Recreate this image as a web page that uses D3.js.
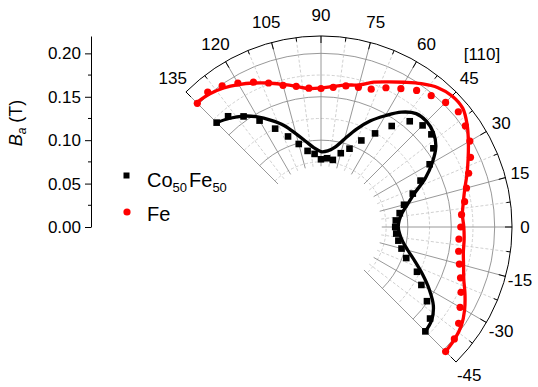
<!DOCTYPE html>
<html>
<head>
<meta charset="utf-8">
<script src="https://cdn.jsdelivr.net/npm/d3@7"></script>
<style>
  body { margin: 0; background: #fff; }
  svg { display: block; font-family: "Liberation Sans", Arial, Helvetica, sans-serif; }
</style>
</head>
<body>
<svg id="chart" width="538" height="387"></svg>
<script>
'use strict';

// measurement angles (deg) and anisotropy field Ba (T)
const angles = [-45, -40, -35, -30, -25, -20, -15, -10, -5, 0, 5, 10, 15, 20, 25, 30, 35, 40, 45,
                50, 55, 60, 65, 70, 75, 80, 85, 90, 95, 100, 105, 110, 115, 120, 125, 130, 135];

const feData = [0.203, 0.2005, 0.1935, 0.185, 0.178, 0.171, 0.165, 0.161, 0.1595, 0.161, 0.1625, 0.168,
                0.1735, 0.181, 0.190, 0.198, 0.203, 0.2065, 0.203, 0.1975, 0.192, 0.184, 0.177, 0.169,
                0.1665, 0.165, 0.1615, 0.1595, 0.1605, 0.1645, 0.169, 0.1765, 0.184, 0.1915, 0.1985,
                0.203, 0.2015];
const feFit = [0.203, 0.201, 0.1975, 0.191, 0.183, 0.175, 0.170, 0.1665, 0.1655, 0.1645, 0.1635, 0.1665,
               0.1715, 0.179, 0.187, 0.196, 0.2055, 0.213, 0.2135, 0.2095, 0.2015, 0.1925, 0.1845,
               0.1775, 0.1695, 0.166, 0.1625, 0.160, 0.160, 0.1645, 0.170, 0.1765, 0.183, 0.1895,
               0.1955, 0.200, 0.2025];

const coData = [0.170, 0.164, 0.149, 0.1335, 0.122, 0.1045, 0.096, 0.0905, 0.087, 0.0855, 0.0865, 0.092,
                0.099, 0.1125, 0.1265, 0.1445, 0.158, 0.166, 0.1655, 0.159, 0.142, 0.1245, 0.110,
                0.096, 0.088, 0.0785, 0.0795, 0.078, 0.0845, 0.089, 0.099, 0.111, 0.125, 0.1415,
                0.1555, 0.1665, 0.170];
const coFit = [0.170, 0.1665, 0.158, 0.144, 0.129, 0.115, 0.1035, 0.0955, 0.091, 0.089, 0.0905, 0.095,
               0.1035, 0.115, 0.1325, 0.148, 0.1615, 0.169, 0.172, 0.1705, 0.1615, 0.148, 0.135,
               0.120, 0.105, 0.0935, 0.088, 0.0868, 0.0915, 0.100, 0.111, 0.1245, 0.1355, 0.1465,
               0.156, 0.1635, 0.170];

const angleTicks = [-45, -30, -15, 0, 15, 30, 45, 60, 75, 90, 105, 120, 135];
const angleMinor = [-37.5, -22.5, -7.5, 7.5, 22.5, 37.5, 52.5, 67.5, 82.5, 97.5, 112.5, 127.5];
const radialMajor = [0.10, 0.15, 0.20];
const radialMinor = [0.075, 0.125, 0.175];
const axisTicks = [0, 0.05, 0.10, 0.15, 0.20];
const axisMinor = [0.025, 0.075, 0.125, 0.175];

const cx = 321, cy = 227;
const rMax = 0.22, rMin = 0.07;

const svg = d3.select('#chart');
const r = d3.scaleLinear().domain([0, rMax]).range([0, 191]);
// math angle (deg, ccw from +x) -> d3 radial angle (rad, cw from 12 o'clock)
const a = d3.scaleLinear().domain([0, 90]).range([Math.PI / 2, 0]);
const rad = deg => deg * Math.PI / 180;
const px = (deg, rr) => [rr * Math.cos(rad(deg)), -rr * Math.sin(rad(deg))];

const g = svg.append('g').attr('transform', `translate(${cx},${cy})`);

// circular grid
function arcPath(rr) {
  const p = d3.path();
  p.arc(0, 0, rr, rad(-135), rad(45), false);
  return p.toString();
}
g.selectAll('.arc-minor').data(radialMinor).join('path')
  .attr('d', v => arcPath(r(v)))
  .attr('fill', 'none').attr('stroke', '#c4c4c4').attr('stroke-width', 0.8)
  .attr('stroke-dasharray', '3,2');
g.selectAll('.arc-major').data(radialMajor).join('path')
  .attr('d', v => arcPath(r(v)))
  .attr('fill', 'none').attr('stroke', '#8c8c8c').attr('stroke-width', 0.9);

// radial grid
g.selectAll('.spoke-minor').data(angleMinor).join('line')
  .attr('x1', d => px(d, r(rMin))[0]).attr('y1', d => px(d, r(rMin))[1])
  .attr('x2', d => px(d, r(rMax))[0]).attr('y2', d => px(d, r(rMax))[1])
  .attr('stroke', '#c4c4c4').attr('stroke-width', 0.8).attr('stroke-dasharray', '3,2');
g.selectAll('.spoke-major').data(angleTicks).join('line')
  .attr('x1', d => px(d, r(rMin))[0]).attr('y1', d => px(d, r(rMin))[1])
  .attr('x2', d => px(d, r(rMax))[0]).attr('y2', d => px(d, r(rMax))[1])
  .attr('stroke', '#8c8c8c').attr('stroke-width', 0.9);

// outer axis arc with inward ticks
g.append('path').attr('d', arcPath(r(rMax)))
  .attr('fill', 'none').attr('stroke', '#000').attr('stroke-width', 1);
g.selectAll('.tick-major').data(angleTicks).join('line')
  .attr('x1', d => px(d, r(rMax))[0]).attr('y1', d => px(d, r(rMax))[1])
  .attr('x2', d => px(d, r(rMax) - 7)[0]).attr('y2', d => px(d, r(rMax) - 7)[1])
  .attr('stroke', '#000').attr('stroke-width', 1);
g.selectAll('.tick-minor').data(angleMinor).join('line')
  .attr('x1', d => px(d, r(rMax))[0]).attr('y1', d => px(d, r(rMax))[1])
  .attr('x2', d => px(d, r(rMax) - 4)[0]).attr('y2', d => px(d, r(rMax) - 4)[1])
  .attr('stroke', '#000').attr('stroke-width', 1);

// angle labels
g.selectAll('.alabel').data(angleTicks).join('text')
  .attr('x', d => px(d, r(rMax) + 13 + 8 * Math.abs(Math.sin(rad(d))))[0])
  .attr('y', d => px(d, r(rMax) + 13 + 8 * Math.abs(Math.sin(rad(d))))[1])
  .attr('text-anchor', 'middle').attr('dominant-baseline', 'central')
  .attr('font-size', 17).attr('fill', '#000')
  .text(d => d);
g.append('text')
  .attr('x', px(47, r(rMax) + 45)[0]).attr('y', px(47, r(rMax) + 45)[1])
  .attr('text-anchor', 'middle').attr('dominant-baseline', 'central')
  .attr('font-size', 17).text('[110]');

// data series
const series = [
  { name: 'Co', pts: coData, fit: coFit, color: '#000' },
  { name: 'Fe', pts: feData, fit: feFit, color: '#ff0000' }
];
const line = d3.lineRadial()
  .angle((d, i) => a(angles[i]))
  .radius(d => r(d))
  .curve(d3.curveCatmullRom.alpha(0.5));

series.forEach(s => {
  g.append('path').attr('d', line(s.fit))
    .attr('fill', 'none').attr('stroke', s.color).attr('stroke-width', 3.3)
    .attr('stroke-linejoin', 'round');
  if (s.name === 'Co') {
    g.selectAll('.sq').data(s.pts).join('rect')
      .attr('x', (d, i) => px(angles[i], r(d))[0] - 3.3)
      .attr('y', (d, i) => px(angles[i], r(d))[1] - 3.3)
      .attr('width', 6.6).attr('height', 6.6).attr('fill', s.color);
  } else {
    g.selectAll('.dot').data(s.pts).join('circle')
      .attr('cx', (d, i) => px(angles[i], r(d))[0])
      .attr('cy', (d, i) => px(angles[i], r(d))[1])
      .attr('r', 3.6).attr('fill', s.color);
  }
});

// separate radial axis on the left
const y = d3.scaleLinear().domain([0, rMax]).range([cy, cy - r(rMax)]);
const yAxis = svg.append('g').attr('transform', 'translate(91,0)')
  .call(d3.axisLeft(y).tickValues(axisTicks).tickFormat(d3.format('.2f'))
    .tickSize(6).tickSizeOuter(0).tickPadding(4));
yAxis.selectAll('text').attr('font-size', 17).attr('fill', '#000')
  .style('font-family', '"Liberation Sans", Arial, sans-serif');
yAxis.selectAll('line, path').attr('stroke', '#000');
yAxis.selectAll('.minor').data(axisMinor).join('line')
  .attr('x1', 0).attr('x2', -3).attr('y1', d => y(d)).attr('y2', d => y(d))
  .attr('stroke', '#000');

const yl = svg.append('text')
  .attr('transform', 'translate(22,123) rotate(-90)')
  .attr('text-anchor', 'middle').attr('font-size', 18);
yl.append('tspan').attr('font-style', 'italic').text('B');
yl.append('tspan').attr('font-style', 'italic').attr('font-size', 12).attr('dy', 4).text('a');
yl.append('tspan').attr('dy', -4).text(' (T)');

// legend
const lg = svg.append('g');
lg.append('rect').attr('x', 123.5).attr('y', 172.5).attr('width', 6).attr('height', 6).attr('fill', '#000');
lg.append('circle').attr('cx', 127).attr('cy', 212).attr('r', 3.6).attr('fill', '#ff0000');
const t1 = lg.append('text').attr('x', 147).attr('y', 187).attr('font-size', 20);
t1.append('tspan').text('Co');
t1.append('tspan').attr('font-size', 13).attr('dy', 5).text('50');
t1.append('tspan').attr('dy', -5).attr('dx', 2).text('Fe');
t1.append('tspan').attr('font-size', 13).attr('dy', 5).text('50');
lg.append('text').attr('x', 147).attr('y', 221).attr('font-size', 20).text('Fe');
</script>
</body>
</html>
